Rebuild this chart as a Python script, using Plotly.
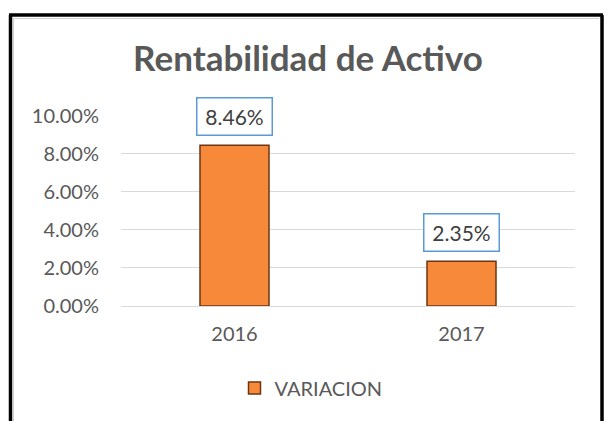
import plotly.graph_objects as go

# Data
categories = ["2016", "2017"]
values = [0.0846, 0.0235]
series_name = "VARIACION"
y_ticks = [0, 0.02, 0.04, 0.06, 0.08, 0.10]

W, H = 608, 421
L, R, T, B = 121, 33, 115, 115
PW, PH = W - L - R, H - T - B

def px_x(p):
    return (p - L) / PW

def px_y(p):
    return (H - B - p) / PH

FONT = "Lato, Carlito, Calibri, 'Open Sans', sans-serif"
GREY = "#595959"

fig = go.Figure()
fig.add_trace(go.Bar(
    x=categories, y=values, name=series_name,
    width=0.304,
    marker=dict(color="#F78A3A", line=dict(color="#6E3410", width=1.5)),
    showlegend=True,
))

for i, v in enumerate(values):
    fig.add_annotation(
        x=i, y=v, xref="x", yref="y", text=f"{v*100:.2f}%",
        showarrow=False, yanchor="bottom", yshift=9,
        font=dict(family=FONT, size=21, color="#404040"),
        width=64, height=26, align="center", valign="middle",
        bordercolor="#5B9BD5", borderwidth=1.5, borderpad=5,
        bgcolor="white",
    )

# frame lines
frame = [
    (10.5, 15, 10.5, H + 2, "black", 3.5),
    (9, 15, 603, 15, "black", 3.5),
    (602, 15, 602, H + 2, "black", 3.5),
    (13, 18.5, 599, 18.5, "#D0D0D0", 1),
    (13.5, 18, 13.5, H + 2, "#D0D0D0", 1),
]
for x0, y0, x1, y1, col, w in frame:
    fig.add_shape(type="line", xref="paper", yref="paper",
                  x0=px_x(x0), y0=px_y(y0), x1=px_x(x1), y1=px_y(y1),
                  line=dict(color=col, width=w), layer="above")

fig.update_layout(
    width=W, height=H,
    margin=dict(l=L, r=R, t=T, b=B, autoexpand=False),
    paper_bgcolor="white", plot_bgcolor="white",
    title=dict(text="<b>Rentabilidad de Activo</b>", x=308 / W, xanchor="center",
               xref="container", y=1 - 59 / H, yanchor="middle", yref="container",
               font=dict(family=FONT, size=35, color=GREY)),
    font=dict(family=FONT, color=GREY),
    legend=dict(orientation="h", x=311 / W, xanchor="center", xref="container",
                y=px_y(388), yanchor="middle",
                font=dict(family=FONT, size=20, color=GREY), itemwidth=30),
    xaxis=dict(type="category", range=[-0.5, 1.5], showgrid=False, showline=False, ticks="",
               tickfont=dict(family=FONT, size=20, color=GREY),
               ticklabelstandoff=14, automargin=False),
    yaxis=dict(range=[0, 0.1005], tickvals=y_ticks, tickformat=".2%",
               showgrid=True, gridcolor="#D9D9D9", gridwidth=1,
               zeroline=True, zerolinecolor="#D9D9D9", zerolinewidth=1,
               showline=False, ticks="",
               tickfont=dict(family=FONT, size=20, color=GREY),
               ticklabelstandoff=21, automargin=False),
)

fig.write_html("out.html", config={"displayModeBar": False},
               post_script="document.body.style.margin='0';")
